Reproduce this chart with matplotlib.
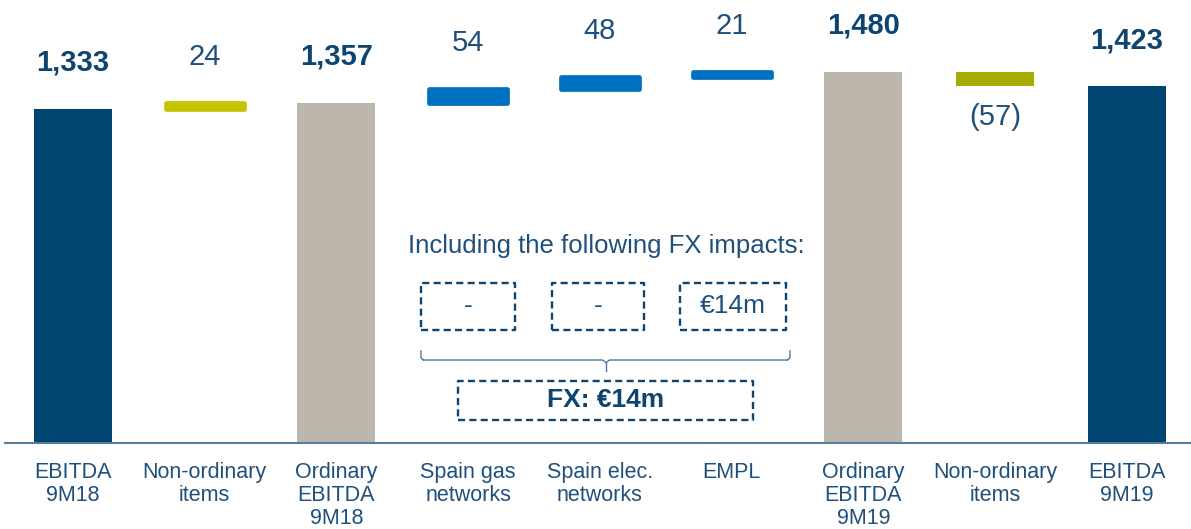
import matplotlib
matplotlib.use('Agg')
from matplotlib import pyplot as plt
from matplotlib.patches import Rectangle

plt.rcParams['font.family'] = ['Liberation Sans', 'DejaVu Sans']

# waterfall data (EUR m)
categories = ['EBITDA\n9M18', 'Non-ordinary\nitems', 'Ordinary\nEBITDA\n9M18',
              'Spain gas\nnetworks', 'Spain elec.\nnetworks', 'EMPL',
              'Ordinary\nEBITDA\n9M19', 'Non-ordinary\nitems', 'EBITDA\n9M19']
values = [1333, 24, 1357, 54, 48, 21, 1480, -57, 1423]
is_total = [True, False, True, False, False, False, True, False, True]
labels = ['1,333', '24', '1,357', '54', '48', '21', '1,480', '(57)', '1,423']
colors = ['#00446f', '#c4c400', '#bdb6ad', '#0070c0', '#0070c0', '#0070c0',
          '#bdb6ad', '#a4ad00', '#00446f']
rounded = [False, True, False, True, True, True, False, False, False]

fx_boxes = ['-', '-', '€14m']
fx_total = 'FX: €14m'

NAVY = '#0d4470'
TXT = '#1f507c'

fig = plt.figure(figsize=(11.91, 5.29), dpi=100)
ax = fig.add_axes([5 / 1191, 86 / 529, 1 - 5 / 1191, 443 / 529])

bottoms = []
run = 0
for v, tot in zip(values, is_total):
    if tot:
        bottoms.append(0)
        run = v
    else:
        bottoms.append(run if v > 0 else run + v)
        run += v
heights = [abs(v) for v in values]

w = 0.592
for i in range(len(values)):
    if rounded[i]:
        ax.bar(i, heights[i], bottom=bottoms[i], width=w, color=colors[i],
               edgecolor=colors[i], linewidth=3.4, joinstyle='round')
    else:
        ax.bar(i, heights[i], bottom=bottoms[i], width=w, color=colors[i],
               linewidth=0)

for i, lab in enumerate(labels):
    top = bottoms[i] + heights[i]
    weight = 'bold' if is_total[i] else 'normal'
    col = NAVY if is_total[i] else TXT
    if values[i] < 0:
        ax.annotate(lab, (i, bottoms[i]), xytext=(0, -12), textcoords='offset points',
                    ha='center', va='top', fontsize=21, color=col)
    else:
        ax.annotate(lab, (i, top), xytext=(0, 27.5), textcoords='offset points',
                    ha='center', va='baseline', fontsize=21, fontweight=weight, color=col)

ax.set_xlim(-0.516, 8.486)
ax.set_ylim(0, 1767)
ax.set_xticks(range(len(categories)))
ax.set_xticklabels(categories, fontsize=15.5, color=TXT, linespacing=1.1, va='top')
ax.tick_params(axis='x', length=0, pad=14)
ax.set_yticks([])
for s in ['top', 'right', 'left']:
    ax.spines[s].set_visible(False)
ax.spines['bottom'].set_color('#5a7c9c')
ax.spines['bottom'].set_linewidth(1.5)

# FX annotation
ax.text(4.05, 758, 'Including the following FX impacts:', ha='center', va='baseline',
        fontsize=18.5, color=TXT)
box_x = [(2.641, 3.355), (3.636, 4.334), (4.607, 5.412)]
for (x0, x1), t in zip(box_x, fx_boxes):
    ax.add_patch(Rectangle((x0, 451), x1 - x0, 187, fill=False, edgecolor=NAVY,
                           linewidth=1.7, linestyle=(0, (3, 1.8)), joinstyle='round'))
    ax.text((x0 + x1) / 2, 545, t, ha='center', va='center', fontsize=19, color=TXT)

bc = '#4a76a0'
ax.plot([2.641, 2.641, 2.66], [367, 340, 331], color=bc, lw=1.0, solid_joinstyle='round')
ax.plot([2.66, 4.02, 4.046, 4.072, 5.423], [331, 331, 320, 331, 331], color=bc, lw=1.0)
ax.plot([5.423, 5.442, 5.442], [331, 340, 367], color=bc, lw=1.0)
ax.plot([4.046, 4.046], [320, 287], color=bc, lw=1.0)

ax.add_patch(Rectangle((2.922, 92), 5.161 - 2.922, 155, fill=False, edgecolor=NAVY,
                       linewidth=1.7, linestyle=(0, (3, 1.8)), joinstyle='round'))
ax.text(4.04, 170, fx_total, ha='center', va='center', fontsize=19,
        fontweight='bold', color=NAVY)

fig.savefig('out.png', dpi=100)
